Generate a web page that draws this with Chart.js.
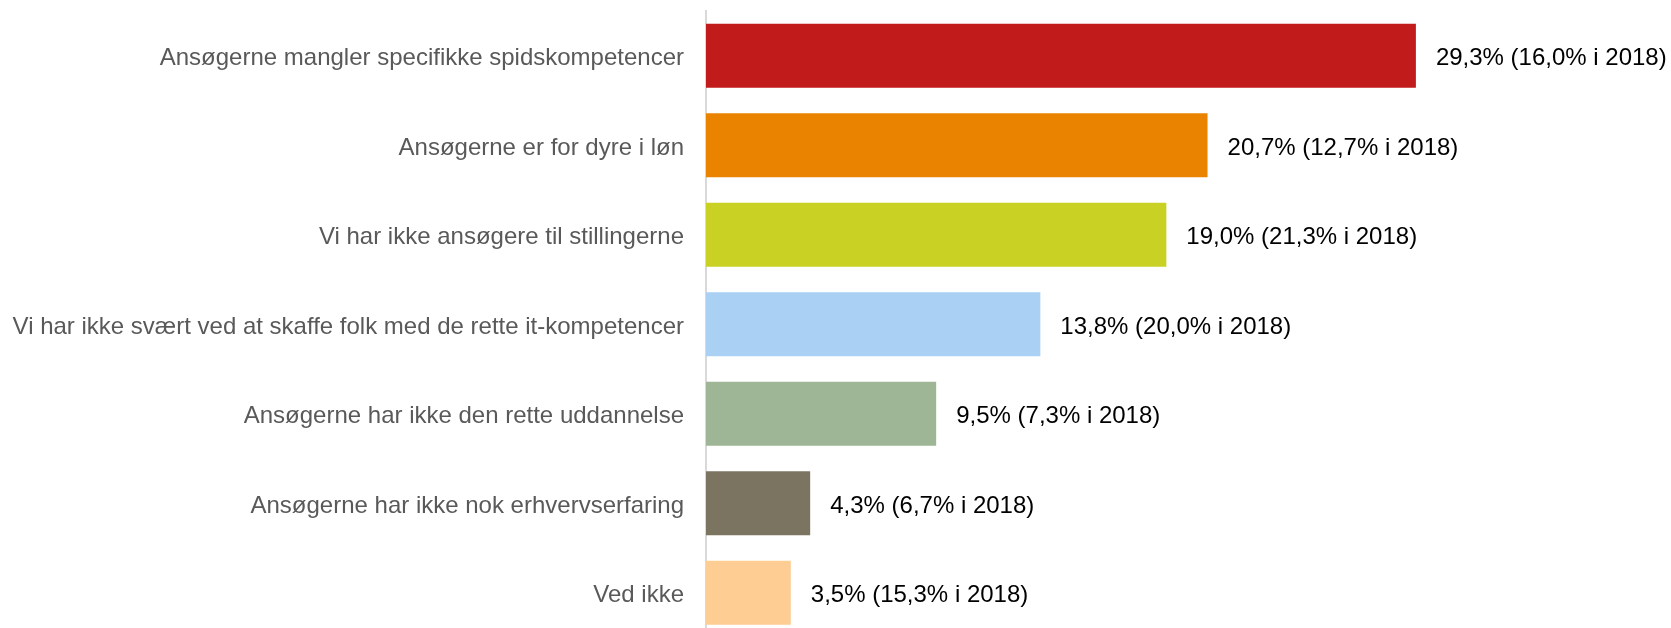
<!DOCTYPE html>
<html>
<head>
<meta charset="utf-8">
<script src="https://cdn.jsdelivr.net/npm/chart.js@4"></script>
<style>
  html, body { margin: 0; padding: 0; background: #fff; overflow: hidden; }
  #wrap { position: relative; width: 1671px; height: 640px; }
</style>
</head>
<body>
<div id="wrap"><canvas id="barChart"></canvas></div>
<script>
const categories = [
  'Ansøgerne mangler specifikke spidskompetencer',
  'Ansøgerne er for dyre i løn',
  'Vi har ikke ansøgere til stillingerne',
  'Vi har ikke svært ved at skaffe folk med de rette it-kompetencer',
  'Ansøgerne har ikke den rette uddannelse',
  'Ansøgerne har ikke nok erhvervserfaring',
  'Ved ikke'
];
const valuesNow = [29.3, 20.7, 19.0, 13.8, 9.5, 4.3, 3.5];
const values2018 = [16.0, 12.7, 21.3, 20.0, 7.3, 6.7, 15.3];
const barColors = ['#C21B1B', '#E98300', '#C9D224', '#AAD1F4', '#9FB696', '#7B7460', '#FECD93'];

const fontFamily = '"Liberation Sans", Arial, sans-serif';

function fmt(v) {
  return v.toFixed(1).replace('.', ',') + '%';
}

// value labels to the right of each bar
const valueLabels = {
  id: 'valueLabels',
  afterDatasetsDraw(chart) {
    const ctx = chart.ctx;
    const meta = chart.getDatasetMeta(0);
    ctx.save();
    ctx.font = '24px ' + fontFamily;
    ctx.fillStyle = '#000';
    ctx.textAlign = 'left';
    ctx.textBaseline = 'middle';
    meta.data.forEach((bar, i) => {
      const txt = fmt(valuesNow[i]) + ' (' + fmt(values2018[i]) + ' i 2018)';
      ctx.fillText(txt, bar.x + 20, bar.y + 3);
    });
    ctx.restore();
  }
};

new Chart(document.getElementById('barChart'), {
  type: 'bar',
  data: {
    labels: categories,
    datasets: [{
      data: valuesNow,
      backgroundColor: barColors,
      borderWidth: 0,
      categoryPercentage: 1,
      barPercentage: 0.715
    }]
  },
  options: {
    indexAxis: 'y',
    responsive: true,
    maintainAspectRatio: false,
    animation: false,
    layout: { padding: { top: 11, bottom: 2.5, left: 0, right: 117 } },
    plugins: {
      legend: { display: false },
      tooltip: { enabled: false }
    },
    scales: {
      x: {
        display: false,
        min: 0,
        max: 35
      },
      y: {
        afterFit: s => {
          s.width = 706;
          s.paddingTop = 0;
          s.paddingBottom = 0;
        },
        grid: { display: false, drawTicks: false },
        border: { display: true, color: '#D9D9D9', width: 2 },
        ticks: {
          padding: 22,
          labelOffset: 3,
          color: '#595959',
          font: { family: fontFamily, size: 24 }
        }
      }
    }
  },
  plugins: [valueLabels]
});
</script>
</body>
</html>
